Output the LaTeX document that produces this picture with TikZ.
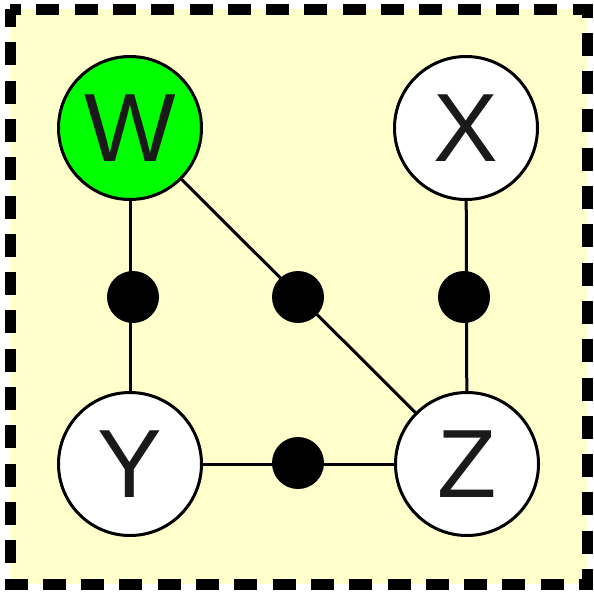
\documentclass[tikz,border=0pt]{standalone}
\usepackage{fontspec}
\setmainfont{Liberation Sans}
\usepackage{xcolor}
\usepackage{tikz}
\usetikzlibrary{positioning,calc}
\definecolor{fondo}{RGB}{255,255,204}
\definecolor{verde}{RGB}{0,255,0}
\definecolor{letra}{RGB}{26,26,26}

\begin{document}
\begin{tikzpicture}[x=1pt,y=-1pt,
    vertice/.style={circle,draw=black,line width=3pt,fill=white,minimum size=143pt,inner sep=0pt,
      font=\fontsize{97}{97}\selectfont,text=letra},
    punto/.style={circle,fill=black,minimum size=52pt,inner sep=0pt},
    arista/.style={line width=3pt}]
        \useasboundingbox (0,0) rectangle (594,592);
        % Marco punteado con fondo amarillo.
        \fill[fondo] (10,9) rectangle (587,584);
        \draw[line width=11pt,dash pattern=on 23pt off 15.3pt,dash phase=5pt]
          (10,9) -- (10,584) -- (587,584) -- (587,9) -- cycle;
        \node[vertice,fill=verde] (W) at (130,128) {W};
        \node[vertice] (X) at (466,128) {X};
        \node[vertice] (Y) at (130,464) {Y};
        \node[vertice] (Z) at (467,464) {Z};
        \draw[arista] (W) -- (Y);
        \draw[arista] (W) -- (Z);
        \draw[arista] (X) -- (Z);
        \draw[arista] (Y) -- (Z);
        \foreach \nombre/\x/\y in {pWY/133/297,pWZ/298/297,pXZ/464/297,pYZ/298/463}{
          \node[punto] (\nombre) at (\x,\y) {};
        }
      \end{tikzpicture}
\end{document}
